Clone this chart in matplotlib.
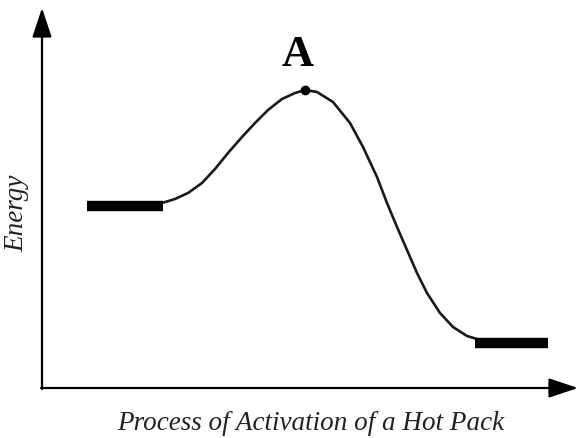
import matplotlib
matplotlib.use("Agg")
import matplotlib.pyplot as plt

# energy profile (progress, energy), origin at the axis corner
curve_x = [120, 133, 146, 160, 173, 186, 200, 213, 226, 240, 253, 263,
           275, 291, 308, 321, 335, 345, 355, 365, 375, 385, 398, 411, 425, 435]
curve_e = [185, 189, 195, 205, 219, 235, 251, 265, 278, 289, 295, 298,
           296, 286, 265, 241, 211, 185, 161, 138, 115, 95, 75, 61, 52, 49]

reactant_x = [45, 121]
reactant_e = [182.5, 182.5]
product_x = [433, 506]
product_e = [45, 45]

peak_x, peak_e = 263, 298.5
peak_label = "A"
x_label = "Process of Activation of a Hot Pack"
y_label = "Energy"

fig = plt.figure(figsize=(5.79, 4.38), dpi=100)
ax = fig.add_axes([0, 0, 1, 1])
ax.set_xlim(-42, 537)
ax.set_ylim(-50, 388)
ax.axis('off')

# axes with arrow heads
arrow = dict(arrowstyle='-|>,head_length=1.2,head_width=0.4', lw=1.6,
             color='black', mutation_scale=15, shrinkA=0, shrinkB=0)
ax.annotate('', xy=(0, 380), xytext=(0, -1), arrowprops=arrow)
ax.annotate('', xy=(536, 0), xytext=(-1, 0), arrowprops=arrow)

ax.plot(curve_x, curve_e, color='#1a1a1a', lw=1.9, solid_joinstyle='round',
        solid_capstyle='round')
ax.plot(reactant_x, reactant_e, color='black', lw=7.5, solid_capstyle='butt')
ax.plot(product_x, product_e, color='black', lw=7.5, solid_capstyle='butt')
ax.plot([peak_x], [peak_e], 'o', color='black', ms=6)

ax.text(peak_x - 7, 333, peak_label, ha='center', va='center',
        family='Liberation Serif', fontweight='bold', fontsize=32)
ax.text(-25, 175, y_label, ha='center', va='center', rotation=90,
        family='Liberation Serif', style='italic', fontsize=19.5, color='#222222')
ax.text(269, -36, x_label, ha='center', va='center',
        family='Liberation Serif', style='italic', fontsize=19.5, color='#222222')

fig.savefig('out.png', dpi=100)
